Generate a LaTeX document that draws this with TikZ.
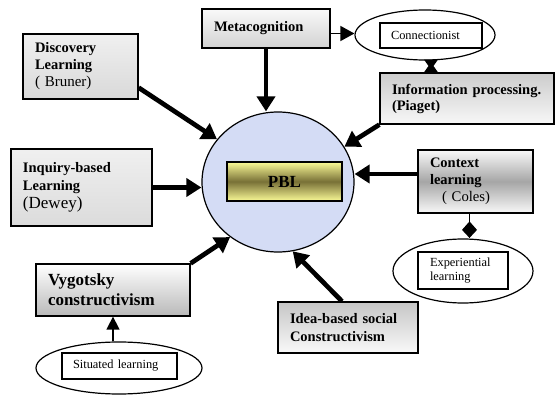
\documentclass[tikz,border=0pt]{standalone}
\usepackage{fontspec}
\setmainfont{Liberation Serif}
\usetikzlibrary{arrows.meta,shapes.geometric}
\definecolor{circfill}{RGB}{212,220,245}
\definecolor{pbly}{RGB}{250,250,150}
\definecolor{pbld}{RGB}{120,112,55}
\begin{document}
\begin{tikzpicture}[x=1pt,y=-1pt,
  box/.style={draw, line width=1.3pt, rectangle, inner xsep=12pt, inner ysep=0pt, align=left,
    font=\fontsize{14.5}{17}\selectfont\bfseries},
  inbox/.style={draw, line width=1.3pt, fill=white, rectangle, inner xsep=11pt, inner ysep=0pt, align=left,
    font=\fontsize{12.4}{14}\selectfont},
  oval/.style={draw, line width=1.2pt, fill=white, ellipse, inner sep=0pt},
  big/.style={line width=4.7pt, -{Triangle[length=15pt,width=18pt]}},
  thinarr/.style={line width=1.5pt, -{Triangle[length=14pt,width=15pt]}}]
\path[use as bounding box] (0,0) rectangle (555,404);

% central circle
\node[oval, fill=circfill, minimum width=152pt, minimum height=140pt] (circ) at (278,182) {};
\node[draw, line width=1.3pt, rectangle, inner sep=0pt, minimum width=115pt, minimum height=39pt,
  top color=pbly, bottom color=pbly, middle color=pbld,
  font=\fontsize{17}{19}\selectfont\bfseries] (pbl) at (284.5,181.5) {PBL};

% boxes
\node[box, text width=104pt, minimum height=39pt, top color=gray!5, bottom color=gray!35] (meta) at (266,28.5) {Metacognition};
\node[box, text width=91pt, minimum height=65pt, top color=gray!12, bottom color=gray!30] (disc) at (80.5,66.5)
  {Discovery\\Learning\\{\fontsize{15}{17}\selectfont\mdseries ( Bruner)}};
\node[box, text width=117pt, minimum height=77pt, top color=gray!12, bottom color=gray!28,
  font=\fontsize{14.5}{18}\selectfont\bfseries] (inq) at (81.5,187.5)
  {Inquiry-based\\Learning\\{\fontsize{17}{21}\selectfont\mdseries (Dewey)}};
\node[box, text width=130pt, minimum height=52pt, top color=white, bottom color=gray!55,
  font=\fontsize{17}{20}\selectfont\bfseries] (vyg) at (113,290) {Vygotsky\\constructivism};
\node[box, text width=150pt, minimum height=51pt, top color=gray!40, bottom color=gray!6,
  font=\fontsize{14.5}{16}\selectfont\bfseries] (info) at (467,98.5) {Information~processing.\\(Piaget)};
\node[box, text width=91pt, minimum height=63pt, top color=gray!5, bottom color=gray!5, middle color=gray!70] (ctx) at (475.5,181.5)
  {Context\\learning\\{\fontsize{14.7}{17}\selectfont\mdseries\hspace*{12pt}( Coles)}};
\node[box, text width=116pt, minimum height=51pt, top color=gray!45, bottom color=gray!5,
  font=\fontsize{14.5}{17.5}\selectfont\bfseries] (idea) at (348,327.5) {Idea-based~social\\Constructivism};

% ovals with inner boxes
\node[oval, minimum width=140pt, minimum height=50pt] (connE) at (425,35) {};
\node[inbox, text width=80pt, minimum height=25pt] (conn) at (431,35.5) {Connectionist};
\node[oval, minimum width=166pt, minimum height=52pt] (sitE) at (119,368) {};
\node[inbox, text width=93pt, minimum height=26pt] (sit) at (119.5,366) {Situated~learning};
\node[oval, minimum width=140pt, minimum height=64pt] (expE) at (463,271) {};
\node[inbox, inner xsep=12pt, text width=66pt, minimum height=37pt] (exp) at (463,270.5) {Experiential\\learning};

% main arrows
\draw[big] (disc.-20) -- (circ.145);
\draw[big] (meta.south) -- (meta.south |- circ.north);
\draw[big] (inq.east) -- (inq.east -| circ.west);
\draw[big] (info.south west) -- (circ.28);
\draw[big] ([yshift=7.5pt]ctx.west) -- ([yshift=7.5pt]ctx.west -| circ.east);
\draw[big] ([xshift=-6pt]idea.north) -- (circ.-78);
\draw[big] (vyg.north east) -- (circ.-131);

% thin connectors
\draw[thinarr] ([yshift=-5pt]meta.east) -- ([yshift=-5pt]meta.east -| connE.west);

% hourglass connector Connectionist -- Information processing
\coordinate (h1) at ([xshift=6pt,yshift=1pt]connE.south);
\coordinate (h2) at (h1 |- info.north);
\path (h1) -- (h2) coordinate[pos=0.5] (hm);
\draw[line width=3pt] (h1) -- (h2);
\fill ([xshift=-7pt]h1) -- ([xshift=7pt]h1) -- ([xshift=2.5pt]hm) -- ([xshift=7pt]h2)
  -- ([xshift=-7pt]h2) -- ([xshift=-2.5pt]hm) -- cycle;

% diamond connector Context -- Experiential
\coordinate (d1) at ([xshift=-6pt]ctx.south);
\coordinate (d2) at (d1 |- expE.north);
\draw[line width=1.5pt] (d1) -- (d2);
\fill ([yshift=0.5pt]d2) -- ([xshift=7.5pt,yshift=8.5pt]d2) -- ([yshift=17pt]d2)
  -- ([xshift=-7.5pt,yshift=8.5pt]d2) -- cycle;

\draw[line width=1.5pt, -{Triangle[length=13pt,width=13pt]}] (vyg.south |- sitE.north) -- (vyg.south);
\end{tikzpicture}
\end{document}
